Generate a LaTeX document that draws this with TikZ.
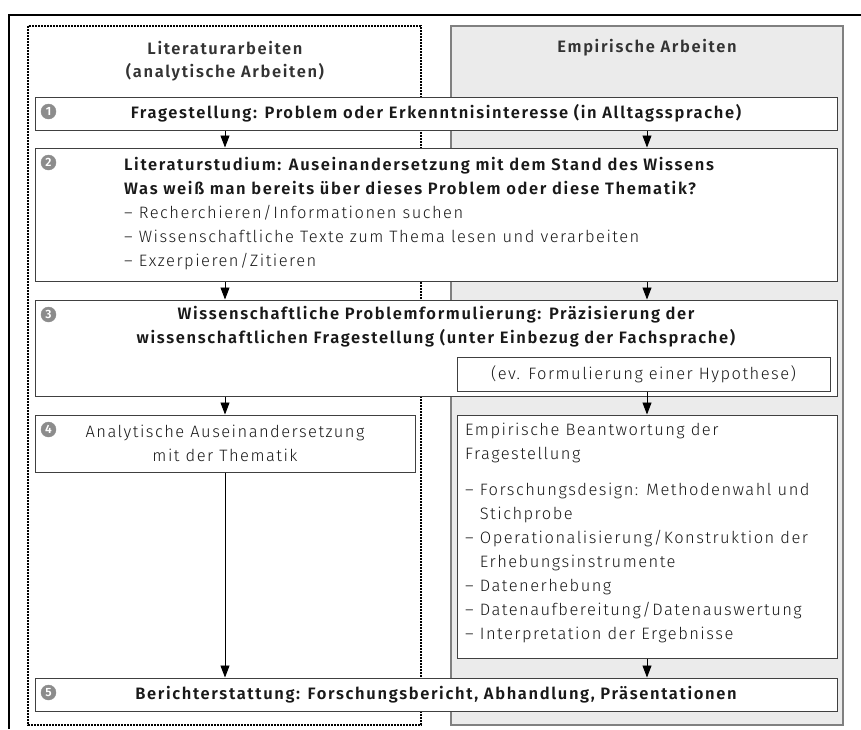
\documentclass[tikz,border=0pt]{standalone}
\usepackage{fontspec}
\setmainfont{Fira Sans}[UprightFont=* Light, BoldFont=* SemiBold, LetterSpace=9, BoldFeatures={LetterSpace=10}]
\usetikzlibrary{arrows.meta,calc}

\begin{document}
\begin{tikzpicture}[x=1pt,y=-1pt,
  box/.style={draw=black!75, line width=1pt, fill=white, inner sep=0pt, minimum height=33pt},
  num/.style={circle, draw=black!45, fill=black!45, text=white, inner sep=0pt, minimum size=15pt, font=\fontsize{12}{12}\selectfont\bfseries},
  arr/.style={-{Triangle[length=12pt,width=9pt]}, line width=0.9pt},
  bold/.style={font=\fontsize{16.5}{24}\selectfont\bfseries, text=black!90, align=center},
  plain/.style={font=\fontsize{16.5}{24}\selectfont, text=black!90, align=left, inner sep=0pt},
  head/.style={font=\fontsize{16.5}{23}\selectfont\bfseries, text=black!80, align=center}]
\useasboundingbox (0,0) rectangle (861,729);
\draw[line width=2pt] (9,729) -- (9,15) -- (861,15);
\draw[fill=black!8, draw=black!50, line width=1.5pt] (451,26) rectangle (843,725);
\draw[line width=2.4pt, dash pattern=on 2pt off 1pt] (28,26) rectangle (421,725);
\coordinate (L) at (225,0);
\coordinate (R) at (647,0);
\node[head] (lit) at (225,61) {Literaturarbeiten\\(analytische Arbeiten)};
\node[head] (emph) at (647,48) {Empirische Arbeiten};
\node[box, bold, minimum width=802pt] (b1) at (436,113.5) {Fragestellung: Problem oder Erkenntnisinteresse (in Alltagssprache)};
\node[box, minimum width=802pt, minimum height=133pt] (b2) at (436,214.5) {};
\node[plain, anchor=north west] (t2) at (124,157) {\textbf{Literaturstudium: Auseinandersetzung mit dem Stand des Wissens}\\\textbf{Was weiß man bereits über dieses Problem oder diese Thematik?}\\– Recherchieren/Informationen suchen\\– Wissenschaftliche Texte zum Thema lesen und verarbeiten\\– Exzerpieren/Zitieren};
\node[box, minimum width=802pt, minimum height=96pt] (b3) at (436,348) {};
\node[bold] (t3) at (436,327) {Wissenschaftliche Problemformulierung: Präzisierung der\\wissenschaftlichen Fragestellung (unter Einbezug der Fachsprache)};
\node[box, plain, minimum width=373pt, minimum height=34pt] (hyp) at (643.5,374) {(ev. Formulierung einer Hypothese)};
\node[box, plain, align=center, minimum width=380pt, minimum height=57pt] (b4) at (225,443.5) {Analytische Auseinandersetzung\\mit der Thematik};
\node[box, minimum width=380pt, minimum height=243pt] (emp) at (647,536.5) {};
\node[plain, anchor=north west] (t5) at (465,423) {Empirische Beantwortung der\\Fragestellung\\[12pt]– Forschungsdesign: Methodenwahl und\\\phantom{– }Stichprobe\\– Operationalisierung/Konstruktion der\\\phantom{– }Erhebungsinstrumente\\– Datenerhebung\\– Datenaufbereitung/Datenauswertung\\– Interpretation der Ergebnisse};
\node[box, bold, minimum width=802pt] (b5) at (436,694.5) {Berichterstattung: Forschungsbericht, Abhandlung, Präsentationen};
\foreach \b/\n in {b1/1,b2/2,b3/3,b4/4,b5/5}
\node[num] (n\n) at ($(\b.north west)+(14,15)$) {\n};
\foreach \from/\to/\col in
{b1/b2/L,b2/b3/L,b3/b4/L,b4/b5/L,b1/b2/R,b2/b3/R,hyp/emp/R,emp/b5/R}
\draw[arr] (\from.south -| \col) -- (\to.north -| \col);
\end{tikzpicture}
\end{document}
